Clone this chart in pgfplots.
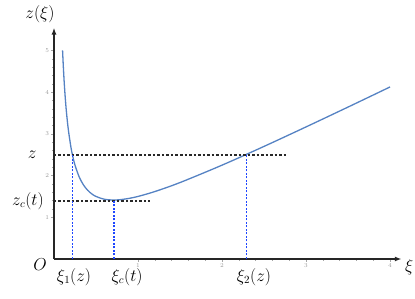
\documentclass[border=0pt]{standalone}
\usepackage{pgfplots}
\pgfplotsset{compat=1.18}
\usetikzlibrary{arrows.meta}
\definecolor{curveblue}{RGB}{85,130,195}
\definecolor{vblue}{RGB}{30,70,255}
\definecolor{hblack}{RGB}{40,40,40}
\begin{document}
\begin{tikzpicture}
\begin{axis}[
  anchor=origin, at={(0pt,0pt)},
  x=84pt, y=41.7pt,
  xmin=0, xmax=4.14, ymin=0, ymax=5.55,
  axis lines=left,
  axis line style={line width=1.4pt, black!85, -{Latex[length=7pt,width=5pt]}},
  xtick={1,2,3,4}, ytick={1,2,3,4,5},
  minor x tick num=4, minor y tick num=4,
  tick align=outside,
  major tick length=3pt, minor tick length=2pt,
  tick style={gray!70, line width=0.4pt},
  tick label style={font=\fontsize{6.5}{7}\selectfont, text=gray!80},
  xticklabel style={yshift=1.5pt},
  yticklabel style={xshift=1.5pt},
  clip=false,
]
\addplot[curveblue, line width=1.3pt, smooth] coordinates {
 (0.102,5.004) (0.11,4.655) (0.12,4.287) (0.13,3.976) (0.14,3.711) (0.15,3.483)
 (0.17,3.111) (0.2,2.7) (0.22,2.493) (0.25,2.25) (0.3,1.967) (0.35,1.779)
 (0.4,1.65) (0.45,1.561) (0.5,1.5) (0.6,1.433) (0.7071,1.414) (0.8,1.425)
 (0.9,1.456) (1.0,1.5) (1.2,1.617) (1.5,1.833) (2.0,2.25) (2.5,2.7)
 (3.0,3.167) (3.5,3.643) (4.0,4.125)
};
\addplot[draw=hblack, line width=1.4pt, dash pattern=on 2.5pt off 2pt] coordinates {(0,2.494) (2.78,2.494)};
\addplot[draw=hblack, line width=1.4pt, dash pattern=on 2.5pt off 2pt] coordinates {(0,1.39) (1.14,1.39)};
\addplot[draw=vblue, line width=1.4pt, dash pattern=on 2pt off 1.5pt] coordinates {(0.219,0) (0.219,2.494)};
\addplot[draw=vblue, line width=1.4pt, dash pattern=on 2pt off 1.5pt] coordinates {(0.714,0) (0.714,1.39)};
\addplot[draw=vblue, line width=1.4pt, dash pattern=on 2pt off 1.5pt] coordinates {(2.292,0) (2.292,2.494)};
\node[font=\fontsize{16}{18}\selectfont] at (axis cs:-0.167,5.88) {$z(\xi)$};
\node[font=\fontsize{16}{18}\selectfont] at (axis cs:4.23,-0.2) {$\xi$};
\node[font=\fontsize{16}{18}\selectfont] at (axis cs:-0.167,-0.14) {$O$};
\node[font=\fontsize{16}{18}\selectfont] at (axis cs:-0.26,2.5) {$z$};
\node[font=\fontsize{16}{18}\selectfont] at (axis cs:-0.31,1.39) {$z_c(t)$};
\node[font=\fontsize{16}{18}\selectfont] at (axis cs:0.238,-0.43) {$\xi_1(z)$};
\node[font=\fontsize{16}{18}\selectfont] at (axis cs:0.87,-0.43) {$\xi_c(t)$};
\node[font=\fontsize{16}{18}\selectfont] at (axis cs:2.38,-0.43) {$\xi_2(z)$};
\end{axis}
\pgfresetboundingbox
\path (-54pt,-40pt) rectangle (361pt,259pt);
\end{tikzpicture}
\end{document}
